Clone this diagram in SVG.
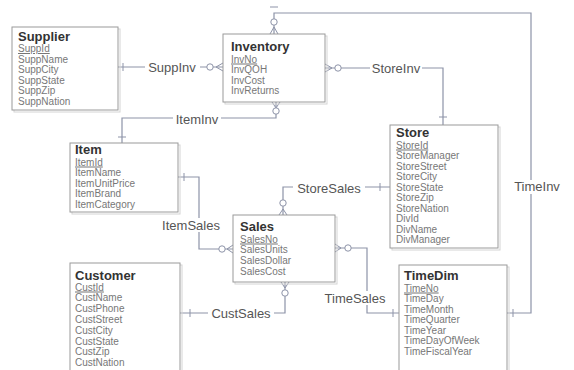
<svg xmlns="http://www.w3.org/2000/svg" width="574" height="370" viewBox="0 0 574 370">
<style>
.box{fill:#fff;stroke:#9a9a9a;stroke-width:1}
.shadow{fill:none;stroke:#d4d4d4;stroke-width:1}
.title{font-family:"Liberation Sans",Arial,sans-serif;font-size:13px;font-weight:bold;fill:#333}
.attr{font-family:"Liberation Sans",Arial,sans-serif;font-size:10px;fill:#777}
.key{text-decoration:underline}
.conn{fill:none;stroke:#8d93a8;stroke-width:1.2}
.mark{fill:none;stroke:#8d93a8;stroke-width:1}
.circ{fill:#fff;stroke:#8d93a8;stroke-width:1}
.lbl{font-family:"Liberation Sans",Arial,sans-serif;font-size:13px;fill:#555;text-anchor:middle}
.lblbg{fill:#fff}
</style>
<rect width="574" height="370" fill="#fff"/>

<g id="connectors">
  <!-- SuppInv -->
  <path class="conn" d="M118,67 H223"/>
  <path class="mark" d="M123,63 V71 M216,67 L223,63 M216,67 L223,71"/>
  <circle class="circ" cx="210" cy="67" r="3.2"/>
  <rect class="lblbg" x="145" y="60" width="55" height="14"/>
  <text class="lbl" x="172" y="71.5">SuppInv</text>

  <!-- TimeInv -->
  <path class="conn" d="M274,34 V13 H531 V313 H507"/>
  <path class="mark" d="M270,7 H278 M274,27 L270,34 M274,27 L278,34 M513,309 V317"/>
  <circle class="circ" cx="274" cy="22" r="3.2"/>
  <rect class="lblbg" x="512" y="180" width="50" height="14"/>
  <text class="lbl" x="537" y="191">TimeInv</text>

  <!-- StoreInv -->
  <path class="conn" d="M325,68 H443 V125"/>
  <path class="mark" d="M332,68 L325,64 M332,68 L325,72 M439,117 H447"/>
  <circle class="circ" cx="338" cy="68" r="3.2"/>
  <rect class="lblbg" x="370" y="61" width="52" height="14"/>
  <text class="lbl" x="396" y="72.5">StoreInv</text>

  <!-- ItemInv -->
  <path class="conn" d="M276,102 V118 H122 V143"/>
  <path class="mark" d="M276,108 L272,102 M276,108 L280,102 M118,137 H126"/>
  <circle class="circ" cx="276" cy="111" r="3.2"/>
  <rect class="lblbg" x="173" y="114" width="48" height="13"/>
  <text class="lbl" x="197" y="124">ItemInv</text>

  <!-- ItemSales -->
  <path class="conn" d="M178,177 H199 V249 H233"/>
  <path class="mark" d="M184,173 V181 M227,249 L233,245 M227,249 L233,253"/>
  <circle class="circ" cx="222" cy="249" r="3.2"/>
  <rect class="lblbg" x="158" y="218" width="66" height="14"/>
  <text class="lbl" x="191" y="229.5">ItemSales</text>

  <!-- StoreSales -->
  <path class="conn" d="M390,187 H283 V215"/>
  <path class="mark" d="M380,183 V191 M283,209 L279,215 M283,209 L287,215"/>
  <circle class="circ" cx="283" cy="203" r="3.2"/>
  <rect class="lblbg" x="293" y="181" width="72" height="14"/>
  <text class="lbl" x="329" y="192.5">StoreSales</text>

  <!-- TimeSales -->
  <path class="conn" d="M335,248 H367 V313 H399"/>
  <path class="mark" d="M341,248 L335,244 M341,248 L335,252 M393,309 V317"/>
  <circle class="circ" cx="348" cy="248" r="3.2"/>
  <rect class="lblbg" x="320" y="291" width="70" height="14"/>
  <text class="lbl" x="355" y="302.5">TimeSales</text>

  <!-- CustSales -->
  <path class="conn" d="M285,282 V313 H180"/>
  <path class="mark" d="M285,288 L281,282 M285,288 L289,282 M190,309 V317"/>
  <circle class="circ" cx="285" cy="293" r="3.2"/>
  <rect class="lblbg" x="208" y="306" width="66" height="14"/>
  <text class="lbl" x="241" y="317.5">CustSales</text>
</g>

<g id="supplier">
  <rect class="shadow" x="14" y="29" width="106" height="83"/>
  <rect class="box" x="12" y="27" width="106" height="83"/>
  <text class="title" x="18" y="41">Supplier</text>
  <text class="attr key" x="18" y="52">SuppId</text>
  <text class="attr" x="18" y="62.6">SuppName</text>
  <text class="attr" x="18" y="73.2">SuppCity</text>
  <text class="attr" x="18" y="83.8">SuppState</text>
  <text class="attr" x="18" y="94.4">SuppZip</text>
  <text class="attr" x="18" y="105">SuppNation</text>
</g>

<g id="inventory">
  <rect class="shadow" x="225" y="36" width="102" height="68"/>
  <rect class="box" x="223" y="34" width="102" height="68"/>
  <text class="title" x="231" y="50.5">Inventory</text>
  <text class="attr key" x="231" y="62.5">InvNo</text>
  <text class="attr" x="231" y="73">InvQOH</text>
  <text class="attr" x="231" y="83.5">InvCost</text>
  <text class="attr" x="231" y="94">InvReturns</text>
</g>

<g id="store">
  <rect class="shadow" x="392" y="127" width="108" height="123"/>
  <rect class="box" x="390" y="125" width="108" height="123"/>
  <text class="title" x="396" y="137">Store</text>
  <text class="attr key" x="396" y="148.5">StoreId</text>
  <text class="attr" x="396" y="159">StoreManager</text>
  <text class="attr" x="396" y="169.5">StoreStreet</text>
  <text class="attr" x="396" y="180">StoreCity</text>
  <text class="attr" x="396" y="190.5">StoreState</text>
  <text class="attr" x="396" y="201">StoreZip</text>
  <text class="attr" x="396" y="211.5">StoreNation</text>
  <text class="attr" x="396" y="222">DivId</text>
  <text class="attr" x="396" y="232.5">DivName</text>
  <text class="attr" x="396" y="243">DivManager</text>
</g>

<g id="item">
  <rect class="shadow" x="72" y="145" width="108" height="69"/>
  <rect class="box" x="70" y="143" width="108" height="69"/>
  <text class="title" x="75" y="154">Item</text>
  <text class="attr key" x="75" y="165.5">ItemId</text>
  <text class="attr" x="75" y="176">ItemName</text>
  <text class="attr" x="75" y="186.5">ItemUnitPrice</text>
  <text class="attr" x="75" y="197">ItemBrand</text>
  <text class="attr" x="75" y="207.5">ItemCategory</text>
</g>

<g id="sales">
  <rect class="shadow" x="235" y="217" width="102" height="67"/>
  <rect class="box" x="233" y="215" width="102" height="67"/>
  <text class="title" x="240" y="230.5">Sales</text>
  <text class="attr key" x="240" y="242.5">SalesNo</text>
  <text class="attr" x="240" y="253.2">SalesUnits</text>
  <text class="attr" x="240" y="263.9">SalesDollar</text>
  <text class="attr" x="240" y="274.6">SalesCost</text>
</g>

<g id="customer">
  <rect class="shadow" x="72" y="265" width="110" height="110"/>
  <rect class="box" x="70" y="263" width="110" height="110"/>
  <text class="title" x="75" y="279.5">Customer</text>
  <text class="attr key" x="75" y="290.5">CustId</text>
  <text class="attr" x="75" y="301.3">CustName</text>
  <text class="attr" x="75" y="312.1">CustPhone</text>
  <text class="attr" x="75" y="322.9">CustStreet</text>
  <text class="attr" x="75" y="333.7">CustCity</text>
  <text class="attr" x="75" y="344.5">CustState</text>
  <text class="attr" x="75" y="355.3">CustZip</text>
  <text class="attr" x="75" y="366.1">CustNation</text>
</g>

<g id="timedim">
  <rect class="shadow" x="401" y="267" width="108" height="110"/>
  <rect class="box" x="399" y="265" width="108" height="110"/>
  <text class="title" x="404" y="279.5">TimeDim</text>
  <text class="attr key" x="404" y="291.5">TimeNo</text>
  <text class="attr" x="404" y="302">TimeDay</text>
  <text class="attr" x="404" y="312.5">TimeMonth</text>
  <text class="attr" x="404" y="323">TimeQuarter</text>
  <text class="attr" x="404" y="333.5">TimeYear</text>
  <text class="attr" x="404" y="344">TimeDayOfWeek</text>
  <text class="attr" x="404" y="354.5">TimeFiscalYear</text>
</g>
</svg>
